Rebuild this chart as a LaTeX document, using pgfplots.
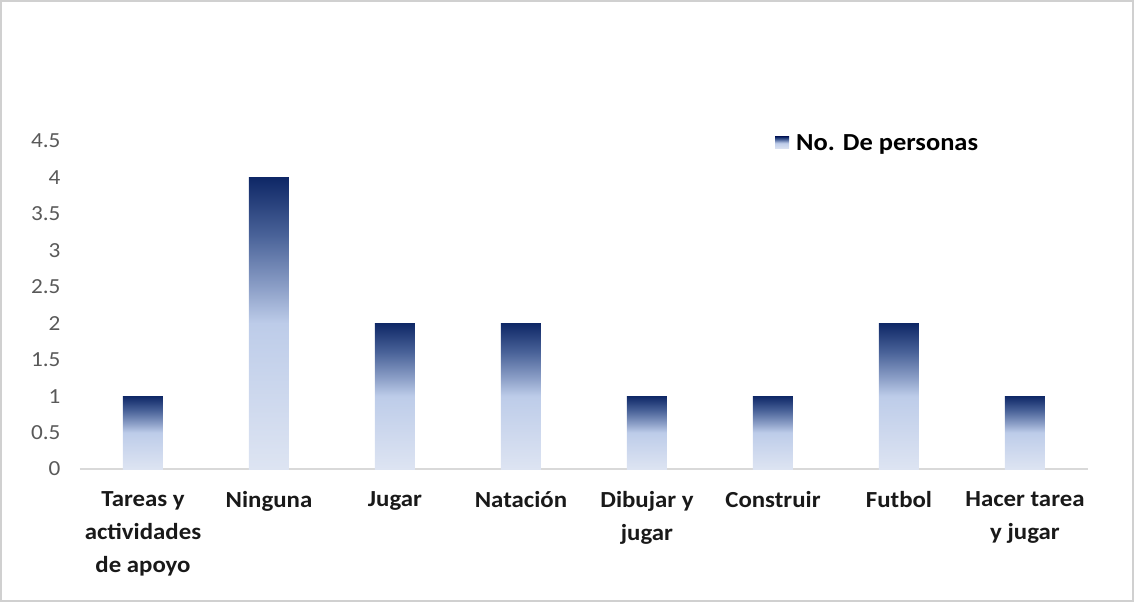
\documentclass[border=0pt]{standalone}
\usepackage{pgfplots}
\pgfplotsset{compat=1.18}
\usepackage{fontspec}
\setmainfont[FakeStretch=1.08]{Carlito}
\definecolor{cbot}{HTML}{DDE4F2}
\definecolor{cmid}{HTML}{BDCCE9}
\definecolor{csix}{HTML}{8DA0C8}
\definecolor{ceig}{HTML}{4A6399}
\definecolor{ctop}{HTML}{0E2766}
\definecolor{tickgray}{HTML}{595959}
\definecolor{axgray}{HTML}{D9D9D9}
\definecolor{framegray}{HTML}{D0D0D0}
\pgfdeclareverticalshading{barshade}{100bp}{color(0bp)=(cbot); color(25bp)=(cbot); color(50bp)=(cmid); color(56bp)=(csix); color(65bp)=(ceig); color(75bp)=(ctop); color(100bp)=(ctop)}
\begin{document}
\begin{tikzpicture}
\useasboundingbox (-80pt,-133pt) rectangle (1054pt,469pt);
\draw[color=framegray, line width=1.5pt] (-79pt,-132pt) rectangle (1053pt,468pt);
\begin{axis}[
  at={(0,0)}, anchor=south west,
  scale only axis, width=1008pt, height=328pt,
  xmin=-0.5, xmax=7.5, ymin=0, ymax=4.5,
  xtick={0,1,2,3,4,5,6,7},
  xticklabels={{Tareas y\\actividades\\de apoyo},{Ninguna},{Jugar},{Natación},{Dibujar y\\jugar},{Construir},{Futbol},{Hacer tarea\\y jugar}},
  ytick={0,0.5,1,1.5,2,2.5,3,3.5,4,4.5},
  /pgf/number format/assume math mode=true,
  major tick length=0pt,
  axis x line*=bottom, axis y line*=left,
  x axis line style={draw=axgray, line width=1.2pt, -},
  y axis line style={draw=none},
  yticklabel style={font=\fontsize{21.5}{21.5}\selectfont, text=tickgray, anchor=east, xshift=-16pt},
  xticklabel style={font=\bfseries\fontsize{23}{33}\selectfont, text=black!90, align=center, anchor=north, yshift=-19pt},
  legend style={at={(0.6895,0.994)}, anchor=west, draw=none, fill=none, font=\bfseries\fontsize{24.5}{24.5}\selectfont, inner sep=0pt},
  legend image code/.code={\shade[shading=barshade] (-7pt,-6pt) rectangle (7pt,6pt);},
  barstyle/.style={ybar, bar width=40pt, bar shift=0pt, draw=none, shade, shading=barshade},
]
\addplot[barstyle] coordinates {(0,1)};
\addlegendentry{\hspace{5pt}No. De personas}
\addplot[barstyle, forget plot] coordinates {(1,4)};
\addplot[barstyle, forget plot] coordinates {(2,2)};
\addplot[barstyle, forget plot] coordinates {(3,2)};
\addplot[barstyle, forget plot] coordinates {(4,1)};
\addplot[barstyle, forget plot] coordinates {(5,1)};
\addplot[barstyle, forget plot] coordinates {(6,2)};
\addplot[barstyle, forget plot] coordinates {(7,1)};
\end{axis}
\end{tikzpicture}
\end{document}
